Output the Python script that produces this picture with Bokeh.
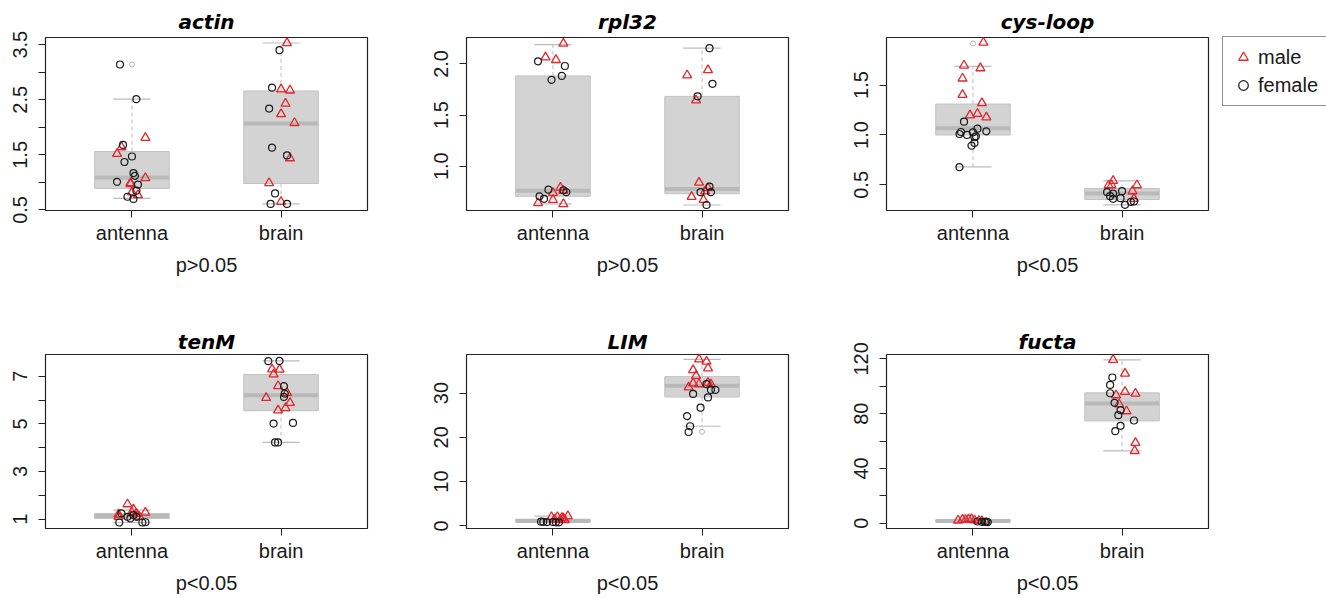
from bokeh.plotting import figure
from bokeh.layouts import column, row
from bokeh.models import FixedTicker, PrintfTickFormatter, Legend, LegendItem, Range1d
from bokeh.embed import file_html
from bokeh.resources import INLINE

categories = ["antenna", "brain"]
genes = ["actin", "rpl32", "cys-loop", "tenM", "LIM", "fucta"]
pvalues = ["p>0.05", "p>0.05", "p<0.05", "p<0.05", "p<0.05", "p<0.05"]
sexes = ["male", "female"]

# ---------------- actin ----------------
actin_antenna_male = [1.81, 1.64, 1.52, 1.08, 0.99, 0.97, 0.82, 0.77]
actin_antenna_male_jit = [0.09, -0.07, -0.10, 0.09, -0.01, -0.01, 0.00, 0.04]
actin_antenna_female = [3.14, 2.51, 1.68, 1.47, 1.37, 1.17, 1.12, 1.01, 0.96, 0.85, 0.74, 0.70]
actin_antenna_female_jit = [-0.08, 0.03, -0.06, 0.00, -0.05, 0.01, 0.02, -0.10, 0.04, 0.03, -0.03, 0.01]
actin_brain_male = [3.53, 2.69, 2.67, 2.43, 2.24, 2.08, 1.44, 0.99, 0.65]
actin_brain_male_jit = [0.04, 0.00, 0.06, 0.03, 0.00, 0.09, 0.06, -0.08, 0.00]
actin_brain_female = [3.40, 2.72, 2.34, 1.63, 1.49, 0.80, 0.61, 0.61]
actin_brain_female_jit = [-0.01, -0.06, -0.08, -0.06, 0.04, -0.04, -0.07, 0.04]
actin_box_antenna = [0.71, 0.89, 1.09, 1.56, 2.51]   # low whisker, Q1, median, Q3, high whisker
actin_box_brain = [0.61, 0.98, 2.07, 2.66, 3.53]
actin_out_antenna = [3.14]
actin_out_brain = []

# ---------------- rpl32 ----------------
rpl32_antenna_male = [2.20, 2.065, 2.04, 0.79, 0.76, 0.74, 0.67, 0.64, 0.63]
rpl32_antenna_male_jit = [0.07, -0.05, 0.02, 0.05, 0.07, 0.00, 0.00, -0.10, 0.07]
rpl32_antenna_female = [2.026, 1.98, 1.845, 1.883, 0.77, 0.705, 0.68, 0.764, 0.745]
rpl32_antenna_female_jit = [-0.10, 0.08, -0.01, 0.06, -0.03, -0.09, -0.06, 0.07, 0.09]
rpl32_brain_male = [1.94, 1.89, 1.644, 0.84, 0.786, 0.754, 0.70, 0.67]
rpl32_brain_male_jit = [0.04, -0.10, -0.04, -0.02, 0.04, 0.02, -0.07, 0.01]
rpl32_brain_female = [2.155, 1.806, 1.683, 0.80, 0.745, 0.745, 0.62]
rpl32_brain_female_jit = [0.05, 0.07, -0.03, 0.05, -0.01, 0.06, 0.03]
rpl32_box_antenna = [0.63, 0.705, 0.76, 1.883, 2.19]
rpl32_box_brain = [0.62, 0.73, 0.777, 1.683, 2.155]
rpl32_out_antenna = []
rpl32_out_brain = []

# ---------------- cys-loop ----------------
cys_antenna_male = [1.927, 1.697, 1.67, 1.567, 1.403, 1.32, 1.213, 1.197, 1.177]
cys_antenna_male_jit = [0.07, -0.06, 0.05, -0.07, -0.07, 0.06, 0.03, -0.02, 0.09]
cys_antenna_female = [1.133, 1.063, 1.037, 1.03, 1.027, 1.01, 1.0, 0.987, 0.977, 0.92, 0.893, 0.677]
cys_antenna_female_jit = [-0.06, 0.03, 0.09, -0.08, 0.00, -0.09, -0.04, 0.02, 0.01, 0.01, -0.01, -0.09]
cys_brain_male = [0.54, 0.497, 0.497, 0.497, 0.437, 0.36]
cys_brain_male_jit = [-0.06, -0.09, -0.07, 0.10, 0.07, 0.08]
cys_brain_female = [0.437, 0.427, 0.413, 0.387, 0.367, 0.36, 0.333, 0.33, 0.30]
cys_brain_female_jit = [0.00, -0.10, -0.06, -0.08, -0.01, -0.06, 0.08, 0.06, 0.02]
cys_box_antenna = [0.68, 1.0, 1.067, 1.31, 1.687]
cys_box_brain = [0.30, 0.353, 0.413, 0.463, 0.54]
cys_out_antenna = [1.917]
cys_out_brain = []

# ---------------- tenM ----------------
tenM_antenna_male = [1.63, 1.41, 1.28, 1.28, 1.24, 1.20, 1.10, 1.10]
tenM_antenna_male_jit = [-0.03, 0.01, 0.09, 0.00, 0.03, -0.09, -0.09, 0.05]
tenM_antenna_female = [1.24, 1.17, 1.10, 1.10, 1.03, 0.87, 0.86, 0.86]
tenM_antenna_female_jit = [-0.07, 0.01, -0.03, 0.03, -0.01, 0.09, -0.085, 0.07]
tenM_brain_male = [7.29, 7.28, 7.08, 6.59, 6.30, 6.09, 5.88, 5.66, 5.57]
tenM_brain_male_jit = [-0.06, -0.01, -0.05, -0.02, 0.04, -0.10, 0.06, 0.03, -0.02]
tenM_brain_female = [7.64, 7.63, 6.58, 6.27, 6.13, 5.04, 5.01, 4.22, 4.22]
tenM_brain_female_jit = [-0.01, -0.085, 0.02, 0.025, 0.02, 0.08, -0.05, -0.04, -0.02]
tenM_box_antenna = [0.86, 1.03, 1.13, 1.24, 1.38]
tenM_box_brain = [4.22, 5.55, 6.20, 7.07, 7.64]
tenM_out_antenna = []
tenM_out_brain = []

# ---------------- LIM ----------------
LIM_antenna_male = [2.2, 2.0, 2.0, 1.8, 1.7, 1.5, 1.4, 1.3]
LIM_antenna_male_jit = [0.10, 0.03, -0.01, 0.06, 0.07, 0.01, 0.05, 0.08]
LIM_antenna_female = [0.95, 0.9, 0.85, 0.85, 0.8, 0.8]
LIM_antenna_female_jit = [-0.08, -0.065, -0.04, 0.0, 0.02, 0.04]
LIM_brain_male = [37.6, 37.1, 35.6, 35.2, 33.9, 32.3, 32.2, 32.0, 31.95, 31.3]
LIM_brain_male_jit = [-0.02, 0.03, 0.04, -0.06, -0.04, 0.04, -0.06, -0.02, 0.06, -0.09]
LIM_brain_female = [32.0, 30.7, 30.7, 29.8, 29.0, 26.7, 24.8, 22.5, 21.2]
LIM_brain_female_jit = [0.03, 0.06, 0.09, -0.06, 0.04, -0.01, -0.10, -0.08, -0.09]
LIM_box_antenna = [0.8, 0.9, 1.1, 1.5, 2.2]
LIM_box_brain = [22.5, 29.1, 31.65, 33.7, 37.6]
LIM_out_antenna = []
LIM_out_brain = [21.25]

# ---------------- fucta ----------------
fucta_antenna_male = [2.0, 2.6, 2.4, 3.0, 2.2, 1.8, 1.5, 2.8]
fucta_antenna_male_jit = [-0.10, -0.07, -0.05, -0.01, 0.01, 0.04, 0.06, -0.03]
fucta_antenna_female = [1.2, 1.0, 0.9, 0.8, 1.1]
fucta_antenna_female_jit = [0.03, 0.06, 0.08, 0.10, 0.09]
fucta_brain_male = [119.3, 109.3, 95.9, 94.7, 93.5, 86.9, 81.8, 58.7, 52.8]
fucta_brain_male_jit = [-0.06, 0.02, 0.02, 0.09, -0.04, -0.02, 0.03, 0.09, 0.085]
fucta_brain_female = [106.4, 101.0, 94.9, 87.9, 82.5, 78.9, 75.0, 71.1, 67.2]
fucta_brain_female_jit = [-0.065, -0.08, -0.08, -0.05, -0.01, -0.025, 0.08, -0.01, -0.045]
fucta_box_antenna = [0.5, 1.0, 1.5, 2.5, 3.0]
fucta_box_brain = [52.8, 74.7, 87.4, 95.2, 119.3]
fucta_out_antenna = []
fucta_out_brain = []

# axis settings: (y range, labelled ticks, unlabelled ticks, label format)
actin_axis = ((0.49, 3.63), [0.5, 1.5, 2.5, 3.5], [1.0, 2.0, 3.0], "%.1f")
rpl32_axis = ((0.566, 2.259), [1.0, 1.5, 2.0], [], "%.1f")
cys_axis = ((0.243, 1.977), [0.5, 1.0, 1.5], [], "%.1f")
tenM_axis = ((0.608, 7.91), [1, 3, 5, 7], [2, 4, 6], "%d")
LIM_axis = ((-0.6, 38.7), [0, 10, 20, 30], [], "%d")
fucta_axis = ((-3.9, 123.2), [0, 40, 80, 120], [20, 60, 100], "%d")


def gene_table(prefix_vals, axis):
    (am, amj, af, afj, bm, bmj, bf, bfj, ba, bb, oa, ob) = prefix_vals
    return dict(antenna_male=am, antenna_male_jit=amj, antenna_female=af, antenna_female_jit=afj,
                brain_male=bm, brain_male_jit=bmj, brain_female=bf, brain_female_jit=bfj,
                box_antenna=ba, box_brain=bb, out_antenna=oa, out_brain=ob, axis=axis)


panels = [
    gene_table((actin_antenna_male, actin_antenna_male_jit, actin_antenna_female, actin_antenna_female_jit,
                actin_brain_male, actin_brain_male_jit, actin_brain_female, actin_brain_female_jit,
                actin_box_antenna, actin_box_brain, actin_out_antenna, actin_out_brain), actin_axis),
    gene_table((rpl32_antenna_male, rpl32_antenna_male_jit, rpl32_antenna_female, rpl32_antenna_female_jit,
                rpl32_brain_male, rpl32_brain_male_jit, rpl32_brain_female, rpl32_brain_female_jit,
                rpl32_box_antenna, rpl32_box_brain, rpl32_out_antenna, rpl32_out_brain), rpl32_axis),
    gene_table((cys_antenna_male, cys_antenna_male_jit, cys_antenna_female, cys_antenna_female_jit,
                cys_brain_male, cys_brain_male_jit, cys_brain_female, cys_brain_female_jit,
                cys_box_antenna, cys_box_brain, cys_out_antenna, cys_out_brain), cys_axis),
    gene_table((tenM_antenna_male, tenM_antenna_male_jit, tenM_antenna_female, tenM_antenna_female_jit,
                tenM_brain_male, tenM_brain_male_jit, tenM_brain_female, tenM_brain_female_jit,
                tenM_box_antenna, tenM_box_brain, tenM_out_antenna, tenM_out_brain), tenM_axis),
    gene_table((LIM_antenna_male, LIM_antenna_male_jit, LIM_antenna_female, LIM_antenna_female_jit,
                LIM_brain_male, LIM_brain_male_jit, LIM_brain_female, LIM_brain_female_jit,
                LIM_box_antenna, LIM_box_brain, LIM_out_antenna, LIM_out_brain), LIM_axis),
    gene_table((fucta_antenna_male, fucta_antenna_male_jit, fucta_antenna_female, fucta_antenna_female_jit,
                fucta_brain_male, fucta_brain_male_jit, fucta_brain_female, fucta_brain_female_jit,
                fucta_box_antenna, fucta_box_brain, fucta_out_antenna, fucta_out_brain), fucta_axis),
]

# ---------------- styling ----------------
FONT = "Liberation Sans"
TXT = "20px"
RED = "#e3262b"
BLACK = "#1a1a1a"
BOX_FILL = "#d3d3d3"
BOX_LINE = "#c2c2c2"
MED = "#b9b9b9"
WHISK = "#bcbcbc"
HALF_BOX = 0.25
HALF_CAP = 0.125

FRAME_W = 322
FRAME_H = [173, 174]
LEFT = [45, 41, 41]
RIGHT = [58, 57, 118]
TOP = [37, 76]
TITLE_STANDOFF = [8, 2]


def make_panel(i):
    d = panels[i]
    (ylo, yhi), major, minor, fmt = d["axis"]
    col, rw = i % 3, i // 3
    p = figure(frame_width=FRAME_W, frame_height=FRAME_H[rw],
               x_range=Range1d(0.42, 2.58), y_range=Range1d(ylo, yhi),
               output_backend="svg", toolbar_location=None,
               min_border_left=LEFT[col], min_border_right=RIGHT[col],
               min_border_top=TOP[rw], min_border_bottom=0,
               title=genes[i])
    p.background_fill_color = "white"
    p.border_fill_color = "white"
    p.outline_line_color = "#222222"
    p.outline_line_width = 1.2
    p.xgrid.visible = False
    p.ygrid.visible = False

    p.title.text_font = "DejaVu Sans"
    p.title.text_font_style = "bold italic"
    p.title.text_font_size = "20px"
    p.title.align = "center"
    p.title.standoff = TITLE_STANDOFF[rw]
    p.title.text_color = "black"

    # x axis
    xa = p.xaxis[0]
    xa.ticker = FixedTicker(ticks=[1, 2])
    xa.major_label_overrides = {1: categories[0], 2: categories[1]}
    xa.axis_label = pvalues[i]
    xa.axis_label_text_font = FONT
    xa.axis_label_text_font_size = TXT
    xa.axis_label_text_font_style = "normal"
    xa.axis_label_text_color = "#1a1a1a"
    xa.axis_label_standoff = 7
    xa.major_label_text_font = FONT
    xa.major_label_text_font_size = TXT
    xa.major_label_text_color = "#1a1a1a"
    xa.major_label_standoff = 4
    xa.major_tick_out = 7
    xa.major_tick_in = 0
    xa.major_tick_line_color = "#222222"
    xa.minor_tick_line_color = None
    xa.axis_line_color = None

    # y axis
    ya = p.yaxis[0]
    ya.ticker = FixedTicker(ticks=major, minor_ticks=minor)
    ya.formatter = PrintfTickFormatter(format=fmt)
    ya.major_label_orientation = "vertical"
    ya.major_label_text_font = FONT
    ya.major_label_text_font_size = TXT
    ya.major_label_text_color = "#1a1a1a"
    ya.major_label_standoff = 11
    ya.major_tick_out = 7
    ya.major_tick_in = 0
    ya.minor_tick_out = 7
    ya.minor_tick_in = 0
    ya.major_tick_line_color = "#222222"
    ya.minor_tick_line_color = "#222222"
    ya.axis_line_color = None

    # boxplots
    for k, cat in enumerate(categories):
        xc = k + 1
        low, q1, med, q3, high = d["box_" + cat]
        p.quad(left=[xc - HALF_BOX], right=[xc + HALF_BOX], bottom=[q1], top=[q3],
               fill_color=BOX_FILL, line_color=BOX_LINE, line_width=1)
        p.segment(x0=[xc, xc], y0=[q3, q1], x1=[xc, xc], y1=[high, low],
                  line_color=WHISK, line_width=1, line_dash="4 3")
        p.segment(x0=[xc - HALF_CAP] * 2, x1=[xc + HALF_CAP] * 2, y0=[high, low], y1=[high, low],
                  line_color=WHISK, line_width=1.2)
        p.segment(x0=[xc - HALF_BOX], x1=[xc + HALF_BOX], y0=[med], y1=[med],
                  line_color=MED, line_width=4)
        outs = d["out_" + cat]
        if outs:
            p.scatter(x=[xc] * len(outs), y=outs, marker="circle", size=5,
                      fill_color=None, line_color="#b5b5b5", line_width=1)

    # points
    rends = {}
    for sex in sexes:
        xs, ys = [], []
        for k, cat in enumerate(categories):
            vals = d[cat + "_" + sex]
            jit = d[cat + "_" + sex + "_jit"]
            xs += [k + 1 + j for j in jit]
            ys += list(vals)
        if sex == "male":
            r = p.scatter(x=xs, y=ys, marker="triangle", size=9, fill_color=None,
                          line_color=RED, line_width=1.3)
        else:
            r = p.scatter(x=xs, y=ys, marker="circle", size=7, fill_color=None,
                          line_color=BLACK, line_width=1.2)
        rends[sex] = r

    if i == 2:
        legend = Legend(items=[LegendItem(label=s, renderers=[rends[s]]) for s in sexes],
                        location=(14, 104))
        legend.label_text_font = FONT
        legend.label_text_font_size = TXT
        legend.label_text_color = "#1a1a1a"
        legend.border_line_color = "#222222"
        legend.border_line_width = 1.2
        legend.background_fill_color = "white"
        legend.background_fill_alpha = 1.0
        legend.padding = 8
        legend.spacing = 4
        legend.glyph_width = 24
        legend.glyph_height = 24
        legend.label_standoff = 3
        legend.margin = 0
        p.add_layout(legend, "right")
    return p


figs = [make_panel(i) for i in range(6)]
layout = column(row(*figs[:3], spacing=0), row(*figs[3:], spacing=0), spacing=0)

open("out.html", "w").write(file_html(layout, INLINE))
